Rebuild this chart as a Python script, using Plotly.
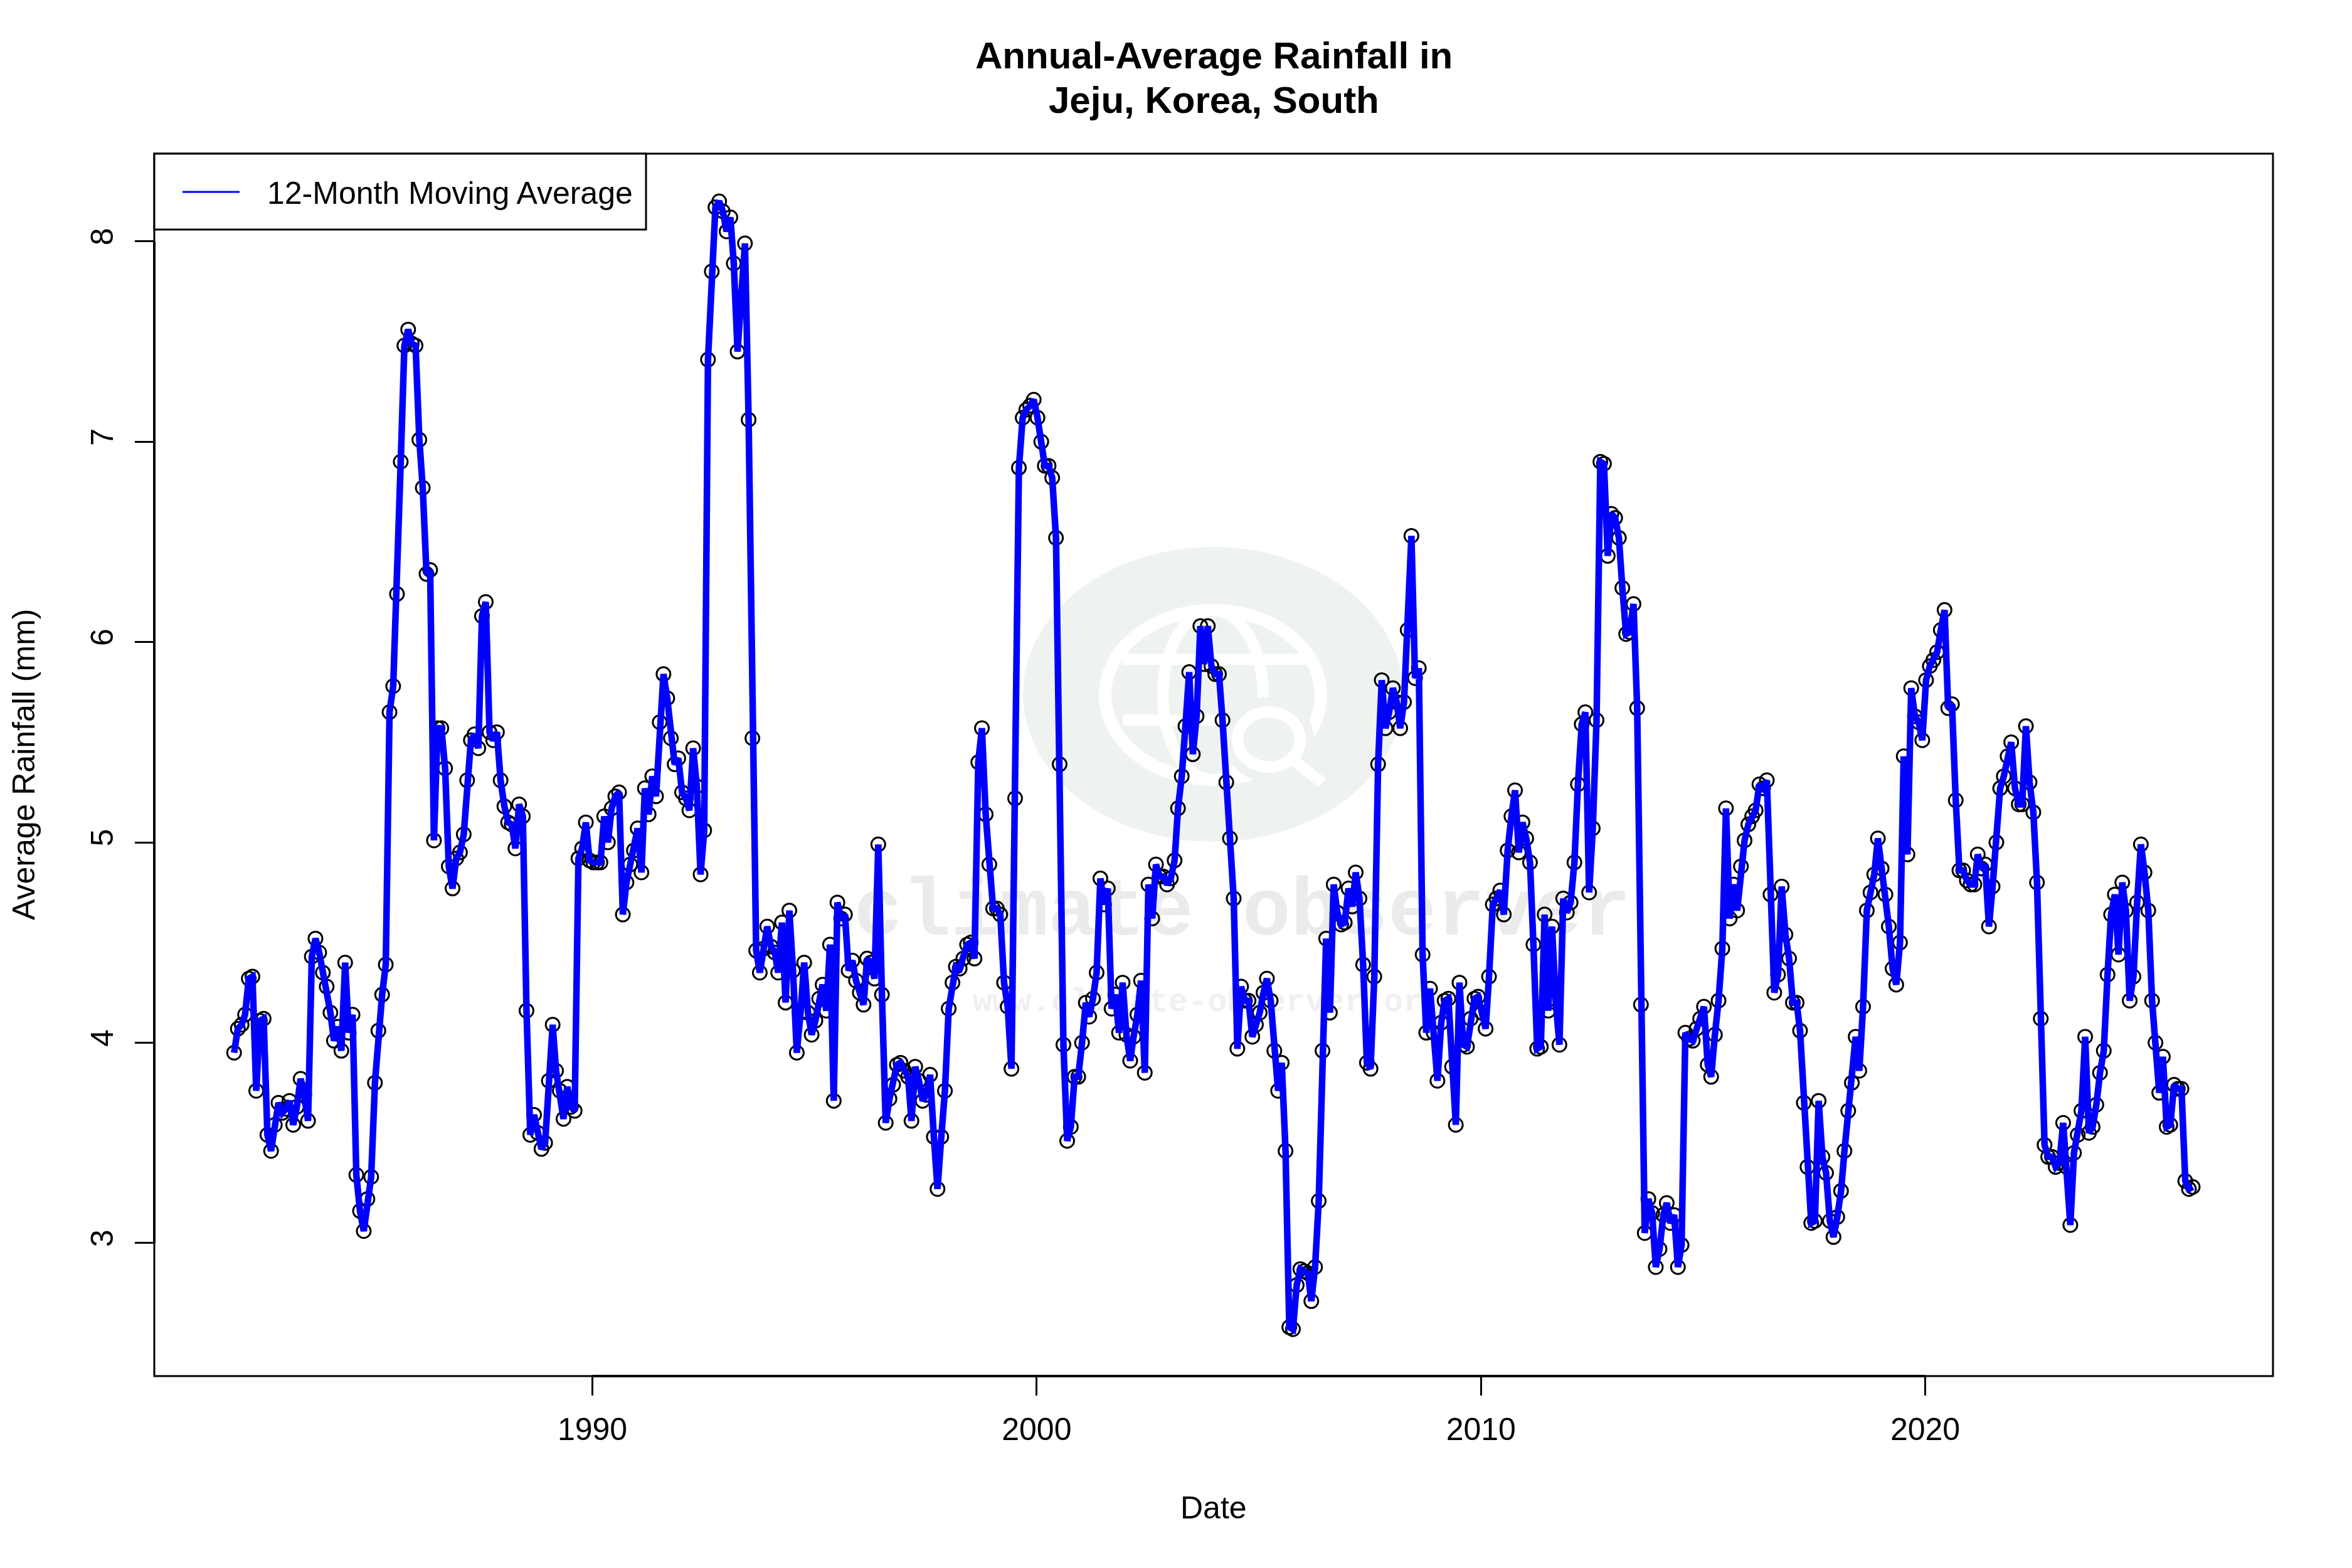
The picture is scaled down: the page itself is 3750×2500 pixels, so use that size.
import pandas as pd
import plotly.graph_objects as go

block_a = [3.95,4.07,4.09,4.14,4.32,4.33,3.76,4.11,4.12,3.54,
 3.46,3.59,3.70,3.65,3.67,3.71,3.59,3.68,3.82,3.74,
 3.61,4.43,4.52,4.45,4.35,4.28,4.15,4.01,4.08,3.96,
 4.40,4.05,4.14,3.34,3.16,3.06,3.22,3.33,3.80,4.06,
 4.24,4.39,5.65,5.78,6.24,6.90,7.48,7.56,7.49,7.48,
 7.01,6.77,6.34,6.36,5.01,5.57,5.57,5.37,4.88,4.77,
 4.92,4.95,5.04,5.31,5.51,5.54,5.47,6.13,6.20,5.55,
 5.51,5.55,5.31,5.18,5.10,5.09,4.97,5.19,5.13,4.16,
 3.54,3.64,3.55,3.47,3.50,3.81,4.09,3.86,3.76,3.62,
 3.78,3.68,3.66,4.92,4.97,5.10,4.91,4.90,4.90,4.90,
 5.13,5.00,5.17,5.23,5.25,4.64,4.80,4.89,4.96,5.07,
 4.85,5.27,5.14,5.33,5.23,5.60,5.84,5.72,5.52,5.39,
 5.42,5.25,5.22,5.16,5.47,5.28,4.84,5.06,7.41,7.85,
 8.17,8.20,8.15,8.05,8.12,7.89,7.45,7.72,7.99,7.11,5.52]
block_b = [4.46,4.35,4.47,4.58,4.48,4.45,4.35,4.60,4.20,4.66,
 4.36,3.95,4.15,4.40,4.15,4.04,4.11,4.22,4.29,4.16,
 4.49,3.71,4.70,4.62,4.64,4.36,4.41,4.31,4.25,4.19,
 4.42,4.40,4.32,4.99,4.24,3.60,3.72,3.79,3.89,3.90,
 3.86,3.83,3.61,3.88,3.81,3.71,3.74,3.84,3.53,3.27,
 3.53,3.76,4.17,4.30,4.38,4.37,4.42,4.49,4.50,4.42,
 5.40,5.57,5.14,4.89,4.67,4.67,4.64,4.30,4.18,3.87,
 5.22,6.87,7.12,7.16,7.18,7.21,7.12,7.00,6.88,6.88,
 6.82,6.52,5.39,3.99,3.51,3.58,3.83,3.83,4.00,4.20,
 4.13,4.22,4.35,4.82,4.69,4.77,4.17,4.24,4.05,4.30,
 4.04,3.91,4.03,4.14,4.31,3.85,4.79,4.62,4.89,4.83,
 4.83,4.79,4.82,4.91,5.17,5.33,5.58,5.85,5.44,5.63,
 6.08,5.89,6.08,5.88,5.84,5.84,5.61,5.30,5.02,4.72,
 3.97,4.28,4.21,4.21,4.03]
block_c = [4.09,4.15,4.25,4.32,4.21,3.96,3.76,3.90,3.46,2.58,
 2.57,2.79,2.87,2.86,2.85,2.71,2.88,3.21,3.96,4.52,
 4.15,4.79,4.65,4.59,4.60,4.77,4.68,4.85,4.72,4.39,
 3.90,3.87,4.33,5.39,5.81,5.57,5.65,5.77,5.70,5.57,
 5.70,6.06,6.53,5.82,5.87,4.44,4.05,4.27,4.05,3.81,
 4.10,4.21,4.22,3.88,3.59,4.30,3.99,3.98,4.12,4.22,
 4.23,4.15,4.07,4.33,4.69,4.72,4.76,4.64,4.96,5.13,
 5.26,4.95,5.10,5.02,4.90,4.49,3.97,3.98,4.64,4.16,
 4.58,4.20,3.99,4.72,4.65,4.70,4.90,5.29,5.59,5.65,
 4.75,5.07,5.61,6.90,6.89,6.43,6.64,6.62,6.52,6.27,
 6.04,6.05,6.19,5.67,4.19,3.05,3.22,3.15,2.88,2.97,
 3.14,3.20,3.10,3.14,2.88,2.99,4.05,4.02,4.01,4.07,
 4.12,4.18,3.89,3.83,4.04,4.21,4.47,5.17,4.62,4.79,
 4.66,4.88,5.01,5.09,5.13,5.16,5.29,5.27,5.31]
block_d = [4.74,4.25,4.34,4.78,4.54,4.42,4.20,4.20,4.06,3.70,
 3.38,3.10,3.11,3.71,3.43,3.35,3.11,3.03,3.13,3.26,
 3.46,3.66,3.80,4.03,3.86,4.18,4.66,4.75,4.84,5.02,
 4.87,4.74,4.58,4.37,4.29,4.50,5.43,4.94,5.77,5.63,
 5.60,5.51,5.81,5.88,5.91,5.95,6.06,6.16,5.67,5.69,
 5.21,4.86,4.86,4.81,4.79,4.79,4.94,4.87,4.89,4.58,
 4.78,5.00,5.27,5.33,5.43,5.50,5.27,5.19,5.19,5.58,
 5.30,5.15,4.80,4.12,3.49,3.43,3.43,3.38,3.40,3.60,
 3.38,3.09,3.45,3.54,3.66,4.03,3.55,3.58,3.69,3.85,
 3.96,4.34,4.64,4.74,4.44,4.80,4.66,4.21,4.33,4.70,
 4.99,4.85,4.66,4.21,4.00,3.75,3.93,3.58,3.59,3.79,
 3.77,3.77,3.31,3.27,3.28]
rainfall = block_a + block_b + block_c + block_d
dates = pd.date_range("1981-12-08", periods=len(rainfall), freq=pd.DateOffset(months=1))

title_lines = ["Annual-Average Rainfall in", "Jeju, Korea, South"]
year_ticks = ["1990-01-01", "2000-01-01", "2010-01-01", "2020-01-01"]
year_labels = ["1990", "2000", "2010", "2020"]
y_ticks = [3, 4, 5, 6, 7, 8]

OFF = 8  # default page margin of the browser
W, H = 3750 - 2 * OFF, 2500 - 2 * OFF
L, R, T, B = 246, 3624, 245, 2194
FONT = "Liberation Sans"

def px(x): return (x - L) / (R - L)
def py(y): return 1 - (y - T) / (B - T)

fig = go.Figure()
# watermark text lies beneath the data, so it is drawn as the first traces
fig.add_trace(go.Scatter(x=["2004-08-17"], y=[4.64], mode="text", text=["climate observer"], showlegend=False,
    textposition="middle center", hoverinfo="skip",
    textfont=dict(family="Liberation Mono", size=129, color="#ebebeb", weight="bold")))
fig.add_trace(go.Scatter(x=["2003-11-05"], y=[4.20], mode="text", text=["www.climate-observer.org"], showlegend=False,
    textposition="middle center", hoverinfo="skip",
    textfont=dict(family="Liberation Mono", size=52, color="#f0f0f0", weight="bold")))
fig.add_trace(go.Scatter(x=dates, y=rainfall, mode="markers", showlegend=False, cliponaxis=False,
    marker=dict(symbol="circle-open", size=22, color="black", line=dict(width=3, color="black"))))
fig.add_trace(go.Scatter(x=dates, y=rainfall, mode="lines", showlegend=False, cliponaxis=False,
    line=dict(color="#0000ff", width=10.5, shape="linear")))

def ell(cx, cy, rx, ry, **kw):
    return dict(type="circle", xref="paper", yref="paper", layer="below",
                x0=px(cx-rx), x1=px(cx+rx), y0=py(cy+ry), y1=py(cy-ry), **kw)
def seg(x0, y0, x1, y1, color, width):
    return dict(type="line", xref="paper", yref="paper", layer="below",
                x0=px(x0), x1=px(x1), y0=py(y0), y1=py(y1), line=dict(color=color, width=width))

G, WH = "#eff3f0", "#ffffff"
nl = dict(width=0)
shapes = [
    ell(1934, 1107, 303, 235, fillcolor=G, line=nl),
    ell(1934, 1108, 172, 135, fillcolor=G, line=dict(color=WH, width=20)),
    ell(1934, 1108, 80, 135, fillcolor=G, line=dict(color=WH, width=18)),
    seg(1790, 1051, 2085, 1051, WH, 18),
    seg(1790, 1148, 1960, 1148, WH, 18),
    ell(2023, 1179, 72, 68, fillcolor=G, line=nl),
    ell(2023, 1179, 50, 44, fillcolor=G, line=dict(color=WH, width=18)),
    seg(2062, 1212, 2108, 1248, WH, 18),
    dict(type="rect", xref="paper", yref="paper", x0=0, x1=1, y0=0, y1=1,
         line=dict(color="black", width=3), layer="above"),
    dict(type="line", xref="x", yref="paper", x0=year_ticks[0], x1=year_ticks[-1], y0=0, y1=0,
         line=dict(color="black", width=4), layer="above"),
    dict(type="line", xref="paper", yref="y", x0=0, x1=0, y0=y_ticks[0], y1=y_ticks[-1],
         line=dict(color="black", width=4), layer="above"),
    dict(type="rect", xref="paper", yref="paper", x0=0, x1=px(1030), y0=py(366), y1=1,
         line=dict(color="black", width=3), fillcolor="white", layer="above"),
    seg(291, 306, 382, 306, "#0000ff", 3) | dict(layer="above"),
]
ann = [
    dict(x=px(424), y=py(308), text="12-Month Moving Average", showarrow=False, xanchor="left", yanchor="middle",
         xref="paper", yref="paper", font=dict(family=FONT, size=50, color="black")),
    dict(x=px(1935), y=py(88), text=title_lines[0], showarrow=False, xref="paper", yref="paper",
         xanchor="center", yanchor="middle", font=dict(family=FONT, size=60, color="black", weight="bold")),
    dict(x=px(1935), y=py(159), text=title_lines[1], showarrow=False, xref="paper", yref="paper",
         xanchor="center", yanchor="middle", font=dict(family=FONT, size=60, color="black", weight="bold")),
    dict(x=px(1935), y=py(2404), text="Date", showarrow=False, xref="paper", yref="paper",
         xanchor="center", yanchor="middle", font=dict(family=FONT, size=50, color="black")),
    dict(x=px(38), y=py(1219), text="Average Rainfall (mm)", showarrow=False, xref="paper", yref="paper",
         xanchor="center", yanchor="middle", textangle=-90, font=dict(family=FONT, size=50, color="black")),
]
fig.update_layout(
    width=W, height=H, autosize=False, showlegend=False,
    margin=dict(l=L-OFF, r=W-(R-OFF), t=T-OFF, b=H-(B-OFF), pad=0),
    paper_bgcolor="white", plot_bgcolor="rgba(0,0,0,0)",
    shapes=shapes, annotations=ann,
    xaxis=dict(type="date", range=["1980-02-21", "2027-10-30"], tickmode="array",
        tickvals=year_ticks, ticktext=year_labels, showgrid=False, zeroline=False, showline=False,
        ticks="outside", ticklen=30, tickwidth=3, tickcolor="black", ticklabelstandoff=11,
        tickfont=dict(family=FONT, size=50, color="black")),
    yaxis=dict(range=[2.336, 8.438], tickmode="array", tickvals=y_ticks, ticktext=[str(v) for v in y_ticks],
        showgrid=False, zeroline=False, showline=False, ticks="outside", ticklen=30, tickwidth=3,
        tickcolor="black", tickangle=-90, ticklabelstandoff=15,
        tickfont=dict(family=FONT, size=50, color="black")),
)
fig.write_html("out.html")
